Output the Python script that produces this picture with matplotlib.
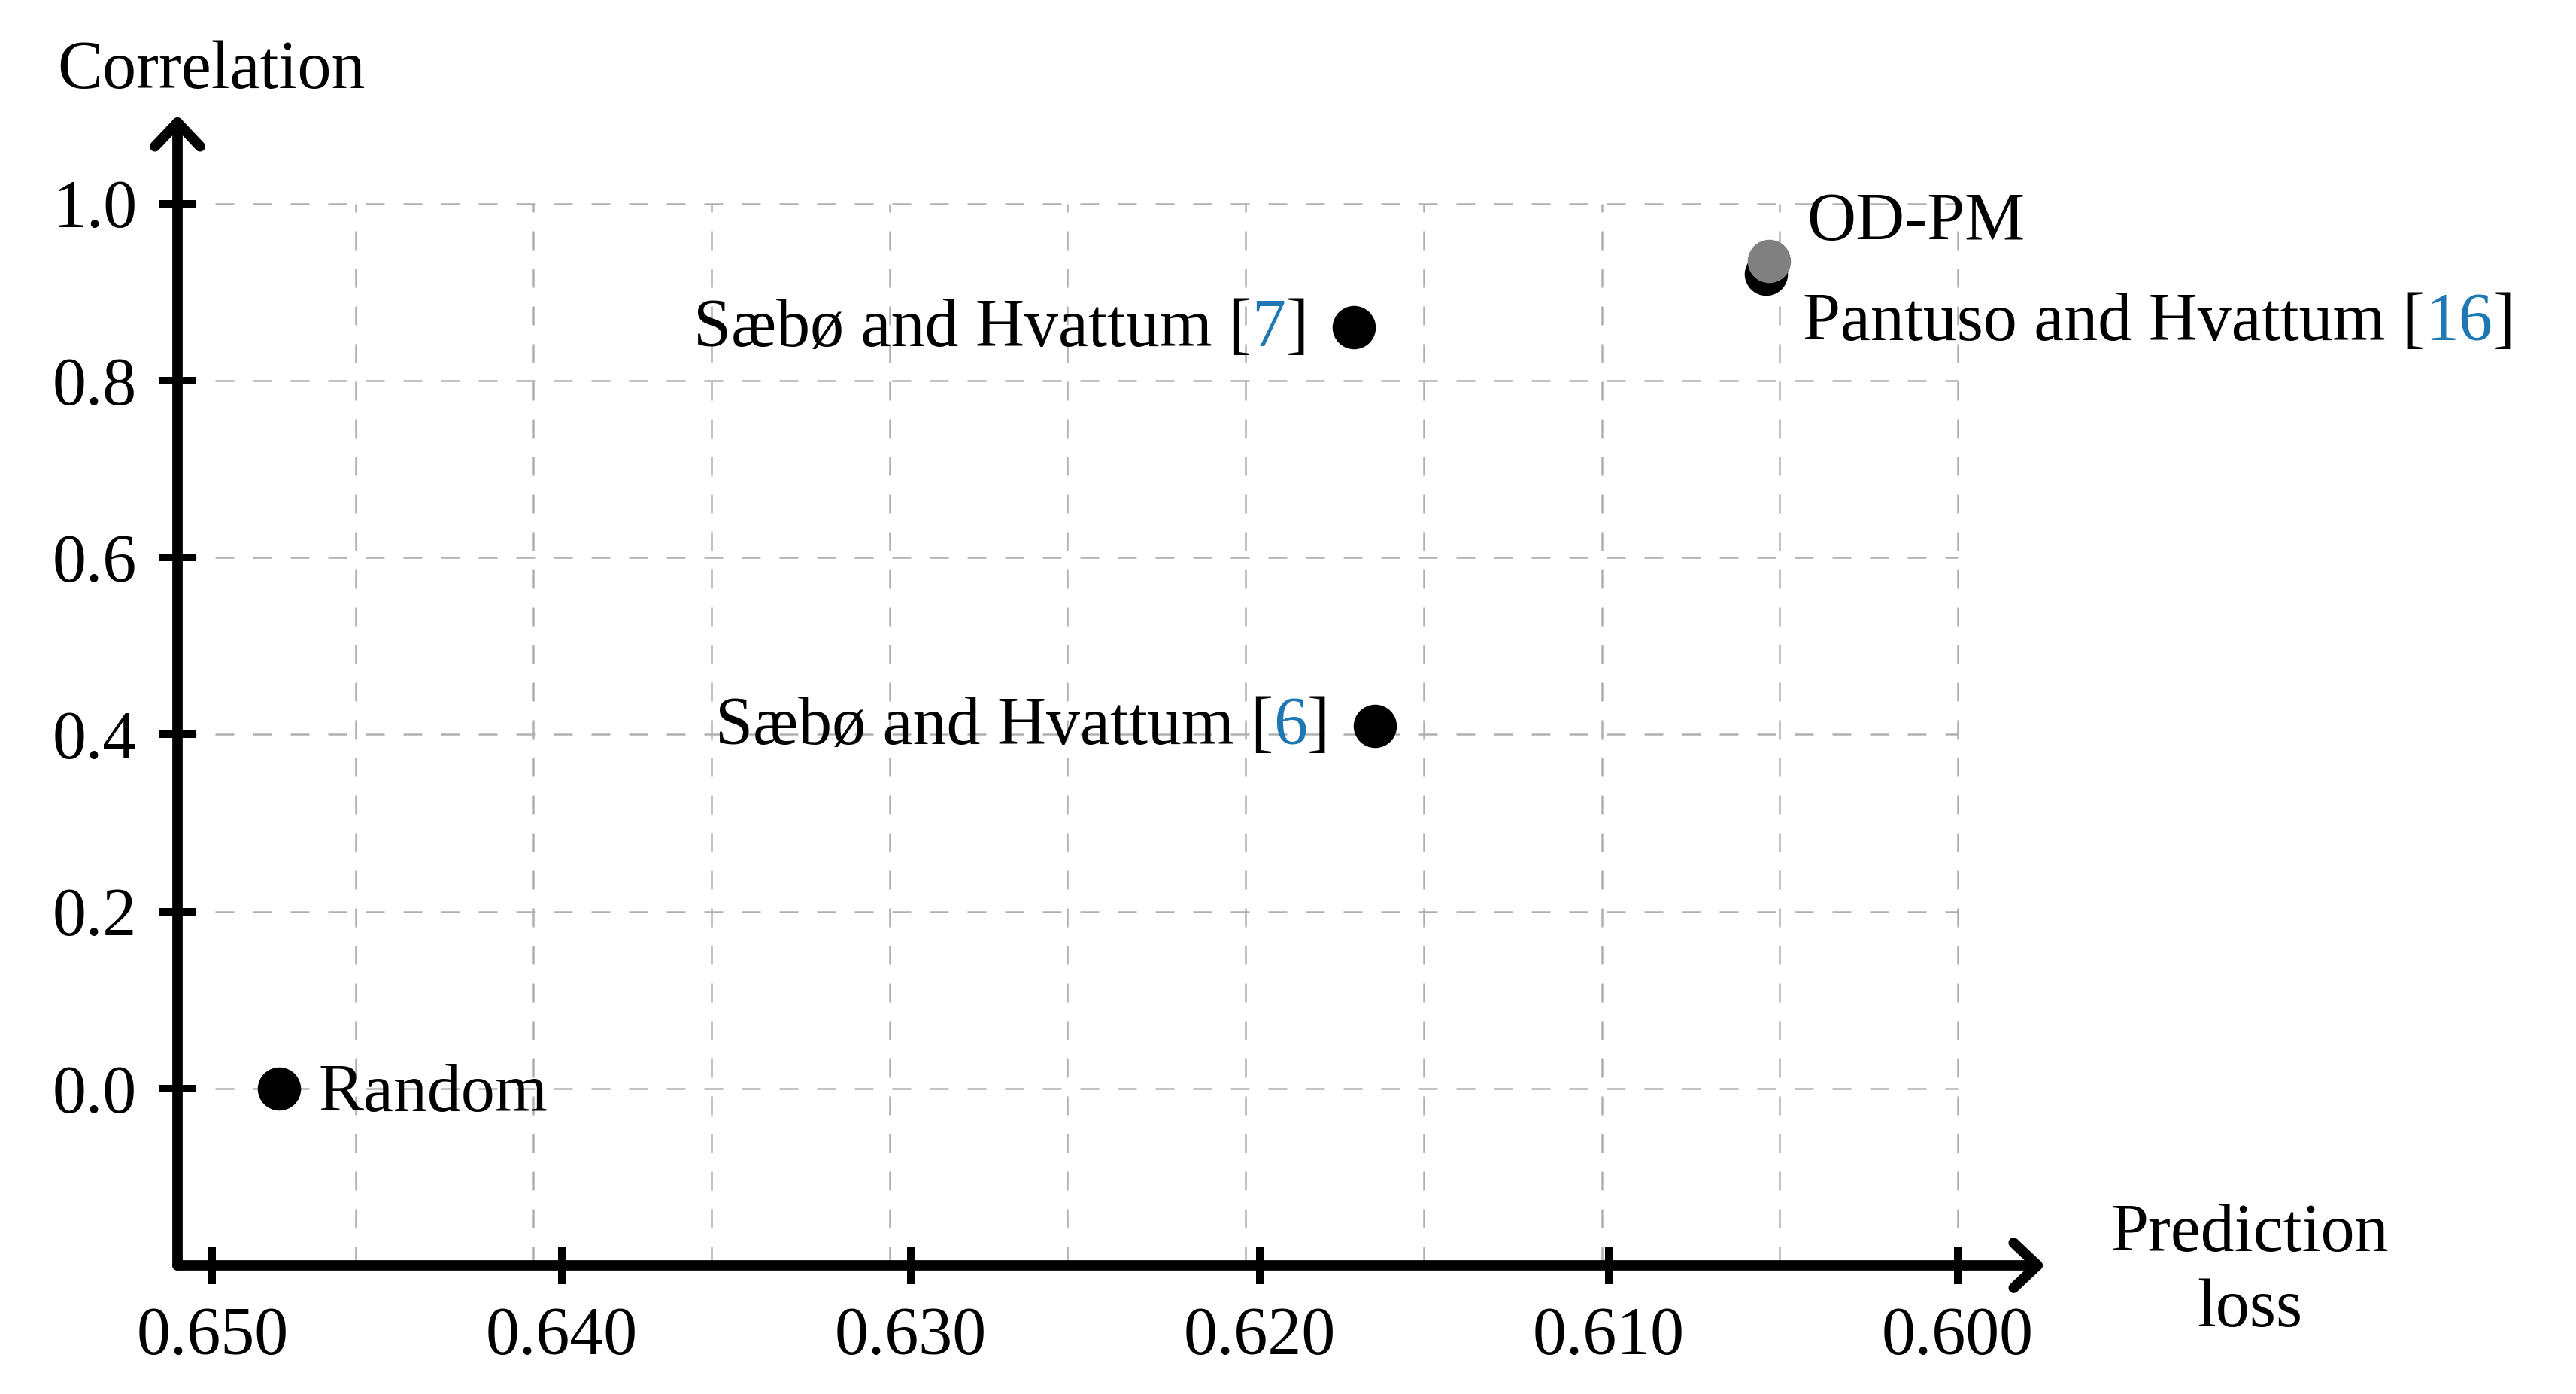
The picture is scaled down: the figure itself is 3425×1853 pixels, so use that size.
import numpy as np
import matplotlib
matplotlib.use('Agg')
import matplotlib.pyplot as plt
from matplotlib.patches import FancyArrowPatch
from matplotlib.offsetbox import TextArea, HPacker, AnnotationBbox


# values
methods = ['Random', 'Sæbø and Hvattum', 'Sæbø and Hvattum', 'Pantuso and Hvattum', 'OD-PM']
refs = ['', '6', '7', '16', '']
pred_loss = [0.6481, 0.6167, 0.6173, 0.6055, 0.6054]
correlation = [0.0, 0.41, 0.86, 0.921, 0.935]
point_colors = ['black', 'black', 'black', 'black', '#808080']

x_ticks = [0.650, 0.640, 0.630, 0.620, 0.610, 0.600]
x_tick_labels = ['0.650', '0.640', '0.630', '0.620', '0.610', '0.600']
y_ticks = [0.0, 0.2, 0.4, 0.6, 0.8, 1.0]
y_tick_labels = ['0.0', '0.2', '0.4', '0.6', '0.8', '1.0']

# label placement (offset in points, box alignment)
label_pos = [(12.8, -2.0, (0, 0.5)),
             (-14.4, -0.6, (1, 0.5)),
             (-14.6, -0.6, (1, 0.5)),
             (11.8, -15.9, (0, 0.5)),
             (12.0, 12.1, (0, 0.5))]

FS = 21.6
CITE = '#1f78b4'
plt.rcParams['font.family'] = ['Liberation Serif', 'DejaVu Serif']

fig = plt.figure(figsize=(3425 / 300, 1853 / 300), dpi=300)
ax = fig.add_axes([236 / 3425, 1 - 1682 / 1853, (2719 - 236) / 3425, (1682 - 153) / 1853])

x0, x1 = 0.651, 0.5975
y0, y1 = -0.2, 1.1
ax.set_xlim(x0, x1)
ax.set_ylim(y0, y1)
for s in ax.spines.values():
	s.set_visible(False)

# dashed help grid (10 x 6 cells)
gx = np.linspace(x0, 0.600, 11)[1:]
gy = np.array(y_ticks)
ax.vlines(gx, y0, 1.0, colors='#b0b0b0', linewidth=0.6, linestyles=(0, (10, 10)), zorder=1)
ax.hlines(gy, x0, 0.600, colors='#b0b0b0', linewidth=0.6, linestyles=(0, (10, 10)), zorder=1)

# axis arrows
for tip in [(x1, y0), (x0, y1)]:
	arr = FancyArrowPatch((x0, y0), tip, arrowstyle='->,head_length=0.38,head_width=0.36',
		mutation_scale=20, lw=3.3, color='black', capstyle='round', joinstyle='round',
		shrinkA=0, shrinkB=0, clip_on=False, zorder=3)
	ax.add_patch(arr)

ax.set_xticks(x_ticks)
ax.set_xticklabels(x_tick_labels)
ax.set_yticks(y_ticks)
ax.set_yticklabels(y_tick_labels)
ax.tick_params(direction='inout', length=12, width=2.4, labelsize=FS, pad=7.0, color='black')

# points
for i in range(len(methods)):
	ax.plot(pred_loss[i], correlation[i], 'o', ms=12.8, color=point_colors[i], zorder=4, clip_on=False)

# labels, citation numbers in blue
for i in range(len(methods)):
	if refs[i]:
		parts = [(methods[i] + ' [', 'black'), (refs[i], CITE), (']', 'black')]
	else:
		parts = [(methods[i], 'black')]
	children = [TextArea(s, textprops=dict(color=c, fontsize=FS)) for s, c in parts]
	box = HPacker(children=children, align='baseline', pad=0, sep=0)
	dx, dy, align = label_pos[i]
	ab = AnnotationBbox(box, (pred_loss[i], correlation[i]), xybox=(dx, dy), xycoords='data',
		boxcoords='offset points', box_alignment=align, frameon=False, pad=0, zorder=5)
	ax.add_artist(ab)

fig.text(76 / 3425, 1 - 117 / 1853, 'Correlation', fontsize=FS, ha='left', va='baseline')
fig.text(2991 / 3425, 1 - 1663 / 1853, 'Prediction', fontsize=FS, ha='center', va='baseline')
fig.text(2991 / 3425, 1 - 1763 / 1853, 'loss', fontsize=FS, ha='center', va='baseline')

fig.savefig('out.png', dpi=300)
